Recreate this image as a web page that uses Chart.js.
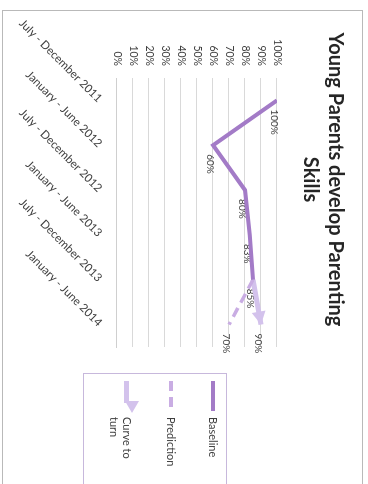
<!DOCTYPE html>
<html>
<head>
<meta charset="utf-8">
<script src="https://cdn.jsdelivr.net/npm/chart.js@4/dist/chart.umd.min.js"></script>
<style>
  body { margin: 0; background: #fff; width: 368px; height: 484px; overflow: hidden; }
  /* the chart is laid out landscape, then turned a quarter clockwise like the scan */
  #wrap { position: absolute; left: 0; top: 0; width: 484px; height: 368px;
          transform-origin: 0 0; transform: translate(368px, 0) rotate(90deg); }
  #frame { position: absolute; left: 10px; top: 5px; width: 480px; height: 359px;
           border: 1px solid #b9b9b9; border-right: none; }
  #chart { position: absolute; left: 0; top: 0; display: block; }
  #legend { position: absolute; left: 373px; top: 141px; width: 110px; height: 142px;
            border: 1px solid #c7b8dc; border-right: none; font: 11px Lato, sans-serif; color: #404040; }
  .item { position: absolute; left: 7px; height: 14px; }
  .sym { position: absolute; left: 0; top: 5px; width: 30px; height: 4px; }
  .txt { position: absolute; left: 36px; top: 0; line-height: 13px; white-space: nowrap; }
  .head { position: absolute; left: 20px; top: -5px; width: 0; height: 0;
          border-top: 7px solid transparent; border-bottom: 7px solid transparent; border-left: 12px solid #d3c2ec; }
</style>
</head>
<body>
<div id="wrap">
  <div id="frame"></div>
  <canvas id="chart" width="484" height="368"></canvas>
  <div id="legend">
    <div class="item" style="top:6px">
      <div class="sym" style="background:#a37bc7"></div>
      <div class="txt">Baseline</div>
    </div>
    <div class="item" style="top:48px">
      <div class="sym" style="background:repeating-linear-gradient(to right,#c9ade3 0 10px,transparent 10px 16px)"></div>
      <div class="txt">Prediction</div>
    </div>
    <div class="item" style="top:92px">
      <div class="sym" style="width:22px;height:5px;background:#d3c2ec"></div>
      <div class="head"></div>
      <div class="txt">Curve to<br>turn</div>
    </div>
  </div>
</div>
<script>
var categories = ['July - December 2011', 'January - June 2012', 'July - December 2012',
                  'January - June 2013', 'July - December 2013', 'January - June 2014'];
var baseline    = [100, 60, 80, 83, 85, null];
var prediction  = [null, null, null, null, 85, 70];
var curveToTurn = [null, null, null, null, 85, 90];
var titleLines  = ['Young Parents develop Parenting', 'Skills'];

Chart.defaults.font.family = 'Lato';

// value labels, drawn under the lines like in the original
var pointLabels = {
    id: 'pointLabels',
    beforeDatasetsDraw: function(chart){
        var ctx = chart.ctx;
        ctx.save();
        ctx.font = '10px Lato';
        ctx.fillStyle = '#404040';
        ctx.textAlign = 'left';
        ctx.textBaseline = 'middle';
        chart.data.datasets.forEach(function(ds, i){
            var meta = chart.getDatasetMeta(i);
            meta.data.forEach(function(pt, j){
                if ( ds.data[j] == null ) return;
                if ( j < ds.labelFrom ) return;
                ctx.fillText(ds.data[j] + '%', pt.x + 9, pt.y + 3);
            });
        });
        ctx.restore();
    }
};

// arrow head on the "Curve to turn" line
var arrowHead = {
    id: 'arrowHead',
    afterDatasetsDraw: function(chart){
        var meta = chart.getDatasetMeta(2);
        var tip = meta.data[5], from = meta.data[4];
        var a = Math.atan2(tip.y - from.y, tip.x - from.x);
        var ctx = chart.ctx;
        ctx.save();
        ctx.translate(tip.x, tip.y);
        ctx.rotate(a);
        ctx.fillStyle = '#d3c2ec';
        ctx.beginPath();
        ctx.moveTo(0, 0);
        ctx.lineTo(-13, -7);
        ctx.lineTo(-13, 7);
        ctx.closePath();
        ctx.fill();
        ctx.restore();
    }
};

new Chart(document.getElementById('chart'), {
    type: 'line',
    data: {
        labels: categories,
        datasets: [
            {
                label: 'Baseline',
                data: baseline,
                borderColor: '#a37bc7',
                borderWidth: 4,
                pointRadius: 0,
                labelFrom: 0
            },
            {
                label: 'Prediction',
                data: prediction,
                borderColor: '#c9ade3',
                borderWidth: 3.5,
                borderDash: [10, 6],
                pointRadius: 0,
                labelFrom: 5
            },
            {
                label: 'Curve to turn',
                data: curveToTurn,
                borderColor: '#d3c2ec',
                borderWidth: 5,
                borderCapStyle: 'butt',
                pointRadius: 0,
                labelFrom: 5
            }
        ]
    },
    options: {
        responsive: false,
        animation: false,
        layout: { padding: { left: 12, right: 137, top: 0, bottom: 0 } },
        plugins: {
            legend: { display: false },
            tooltip: { enabled: false },
            title: {
                display: true,
                text: titleLines,
                color: '#262626',
                font: { size: 20, weight: 'bold', lineHeight: 1.25 },
                padding: { top: 20, bottom: 21 }
            }
        },
        scales: {
            x: {
                offset: true,
                grid: { display: false },
                border: { display: true, color: '#cfcfcf' },
                ticks: { color: '#404040', font: { size: 11.5 }, minRotation: 45, maxRotation: 45, autoSkip: false, padding: 4 },
                afterFit: function(s){ s.height = 117; }
            },
            y: {
                min: 0,
                max: 100,
                grid: { color: '#d9d9d9', drawTicks: false },
                border: { display: false },
                ticks: { stepSize: 10, autoSkip: false, color: '#404040', font: { size: 10.5 }, padding: 12,
                         callback: function(v){ return v + '%'; } },
                afterFit: function(s){ s.width = 66; }
            }
        }
    },
    plugins: [pointLabels, arrowHead]
});
</script>
</body>
</html>
